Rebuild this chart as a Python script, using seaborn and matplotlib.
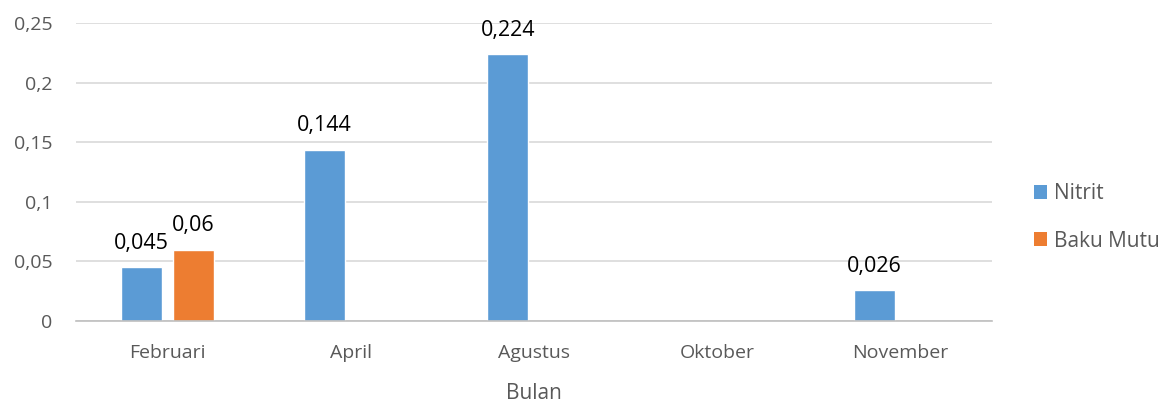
import numpy as np
import pandas as pd
import matplotlib
matplotlib.use("Agg")
import matplotlib.pyplot as plt
import seaborn as sns
from matplotlib.ticker import FuncFormatter, FixedLocator
from matplotlib.patches import Patch

categories = ["Februari", "April", "Agustus", "Oktober", "November"]
nitrit = [0.045, 0.144, 0.224, np.nan, 0.026]
baku_mutu = [0.06, np.nan, np.nan, np.nan, np.nan]
series_names = ["Nitrit", "Baku Mutu"]
colors = ["#5B9BD5", "#ED7D31"]
y_ticks = [0, 0.05, 0.1, 0.15, 0.2, 0.25]

df = pd.DataFrame({
    "Bulan": categories * 2,
    "Nilai": nitrit + baku_mutu,
    "Seri": [series_names[0]] * len(categories) + [series_names[1]] * len(categories),
})

sns.set_theme(style="white")
plt.rcParams["font.family"] = ["Open Sans", "DejaVu Sans"]

fig = plt.figure(figsize=(11.68, 4.03), dpi=100)
ax = fig.add_axes([0.065, 0.2035, 0.784, 0.7382])

sns.barplot(data=df, x="Bulan", y="Nilai", hue="Seri", order=categories,
            hue_order=series_names, palette=colors, width=0.568, gap=0.21,
            saturation=1, errorbar=None, ax=ax, legend=False)

def fmt(v):
    s = f"{v:g}"
    return s.replace(".", ",")

for cont in ax.containers:
    for bar in cont:
        h = bar.get_height()
        if h is None or np.isnan(h) or h == 0:
            continue
        ax.annotate(fmt(h), (bar.get_x() + bar.get_width() / 2, h),
                    xytext=(0, 9.5), textcoords="offset points",
                    ha="center", va="bottom", fontsize=15.5, color="black")

ax.set_ylim(0, 0.25)
ax.set_xlim(-0.5, len(categories) - 0.5)
ax.yaxis.set_major_locator(FixedLocator(y_ticks))
ax.yaxis.set_major_formatter(FuncFormatter(lambda v, p: fmt(round(v, 3)) if v != 0 else "0"))
ax.grid(axis="y", color="#D9D9D9", linewidth=1.2)
ax.set_axisbelow(True)
for s in ["top", "right", "left"]:
    ax.spines[s].set_visible(False)
ax.spines["bottom"].set_color("#BFBFBF")
ax.spines["bottom"].set_linewidth(1.2)

ax.tick_params(axis="y", length=0, labelsize=14, labelcolor="#595959", pad=17)
ax.tick_params(axis="x", which="major", length=0, labelsize=14, labelcolor="#595959", pad=16.5)
ax.set_xticks(np.arange(-0.5, len(categories)), minor=True)
ax.tick_params(axis="x", which="minor", length=7, width=1.2, color="#BFBFBF", direction="out")

ax.set_xlabel("Bulan", fontsize=15, color="#595959", labelpad=15)
ax.set_ylabel("")

handles = [Patch(facecolor=c, edgecolor="none") for c in colors]
fig.legend(handles, series_names, loc="center left", bbox_to_anchor=(0.869, 0.461),
           frameon=False, fontsize=15, labelcolor="#595959", handlelength=0.65,
           handleheight=0.65, handletextpad=0.3, labelspacing=1.28)

fig.savefig("out.png", dpi=100)
